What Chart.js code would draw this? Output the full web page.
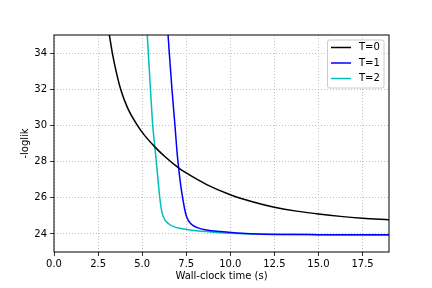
<!DOCTYPE html>
<html>
<head>
<meta charset="utf-8">
<script src="https://cdn.jsdelivr.net/npm/chart.js@4/dist/chart.umd.min.js"></script>
<style>
  html, body { margin: 0; padding: 0; background: #fff; }
  #wrap { width: 432px; height: 288px; }
</style>
</head>
<body>
<div id="wrap"><canvas id="myChart"></canvas></div>
<script>
// values
const labels = ['T=0', 'T=1', 'T=2'];
const colors = ['#000000', '#0000ff', '#00bfbf'];

const t0x = [3.14, 3.31, 3.52, 3.78, 4.16, 4.73, 5.16, 5.73, 6.3, 7.1, 7.5, 8.66, 10.0, 11.3, 12.5, 13.75, 15.0, 16.25, 17.5, 19.0];
const t0y = [35, 34, 33, 32, 31, 30, 29.42, 28.8, 28.27, 27.63, 27.37, 26.73, 26.17, 25.77, 25.48, 25.26, 25.1, 24.97, 24.87, 24.78];

const t1x = [6.47, 6.54, 6.69, 6.86, 6.98, 7.07, 7.2, 7.3, 7.4, 7.52, 7.75, 8.09, 8.66, 9.42, 10.36, 11.5, 13.0, 15.0, 19.0];
const t1y = [35, 34, 32, 30, 28.5, 27.64, 26.6, 25.98, 25.42, 24.95, 24.57, 24.36, 24.22, 24.13, 24.05, 24.0, 23.97, 23.96, 23.95];

const t2x = [5.29, 5.35, 5.47, 5.6, 5.7, 5.8, 5.9, 6.0, 6.13, 6.28, 6.52, 6.75, 7.15, 8.09, 9.42, 10.55, 12.5, 15.0, 19.0];
const t2y = [35, 34, 32, 30, 29, 28, 27, 26, 25.16, 24.79, 24.55, 24.42, 24.31, 24.17, 24.07, 24.02, 23.98, 23.96, 23.94];

const xTicks = [0, 2.5, 5, 7.5, 10, 12.5, 15, 17.5];
const yTicks = [24, 26, 28, 30, 32, 34];

function pts(xs, ys) {
    return xs.map((x, i) => ({ x: x, y: ys[i] }));
}

Chart.defaults.font.family = 'DejaVu Sans';
Chart.defaults.font.size = 10;
Chart.defaults.color = '#000';

// matplotlib style frame + legend inside the axes
const framePlugin = {
    id: 'frame',
    afterDraw(chart) {
        const { ctx, chartArea: a } = chart;
        ctx.save();
        ctx.strokeStyle = '#000';
        ctx.lineWidth = 1;
        ctx.strokeRect(a.left, a.top, a.right - a.left, a.bottom - a.top);

        // legend box
        const bx = 327.5, by = 40, bw = 56.5, bh = 48;
        ctx.fillStyle = 'rgba(255,255,255,0.8)';
        ctx.strokeStyle = '#cccccc';
        ctx.lineWidth = 1;
        ctx.beginPath();
        ctx.roundRect(bx, by, bw, bh, 2);
        ctx.fill();
        ctx.stroke();

        ctx.font = '10px DejaVu Sans';
        ctx.textBaseline = 'middle';
        chart.data.datasets.forEach((ds, i) => {
            const yy = 47.5 + i * 15.5;
            ctx.strokeStyle = ds.borderColor;
            ctx.lineWidth = 1.5;
            ctx.beginPath();
            ctx.moveTo(331, yy);
            ctx.lineTo(351, yy);
            ctx.stroke();
            ctx.fillStyle = '#000';
            ctx.fillText(ds.label, 359, yy);
        });
        ctx.restore();
    }
};

new Chart('myChart', {
    type: 'scatter',
    data: {
        datasets: [
            { label: labels[0], data: pts(t0x, t0y), borderColor: colors[0] },
            { label: labels[1], data: pts(t1x, t1y), borderColor: colors[1] },
            { label: labels[2], data: pts(t2x, t2y), borderColor: colors[2] }
        ].map(d => Object.assign(d, {
            showLine: true,
            pointRadius: 0,
            borderWidth: 1.5,
            tension: 0.4,
            cubicInterpolationMode: 'monotone',
            backgroundColor: d.borderColor
        }))
    },
    options: {
        responsive: true,
        maintainAspectRatio: false,
        animation: false,
        layout: { padding: { left: 0, top: 35, right: 43, bottom: 0 } },
        plugins: {
            legend: { display: false },
            tooltip: { enabled: false }
        },
        scales: {
            x: {
                type: 'linear',
                min: 0,
                max: 19,
                afterBuildTicks: s => { s.ticks = xTicks.map(v => ({ value: v })); },
                afterFit: s => { s.height = 36; },
                ticks: {
                    padding: 2,
                    maxRotation: 0,
                    callback: v => Number(v).toFixed(1)
                },
                grid: {
                    color: '#b0b0b0',
                    lineWidth: 0.8,
                    tickLength: 4,
                    tickColor: '#000'
                },
                border: { display: false, dash: [1, 2] },
                title: {
                    display: true,
                    text: 'Wall-clock time (s)',
                    padding: { top: 0, bottom: 6 }
                }
            },
            y: {
                min: 23,
                max: 35,
                afterBuildTicks: s => { s.ticks = yTicks.map(v => ({ value: v })); },
                afterFit: s => { s.width = 54; },
                ticks: { padding: 3 },
                grid: {
                    color: '#b0b0b0',
                    lineWidth: 0.8,
                    tickLength: 4,
                    tickColor: '#000'
                },
                border: { display: false, dash: [1, 2] },
                title: {
                    display: true,
                    text: '-loglik',
                    padding: { top: 19, bottom: 0 }
                }
            }
        }
    },
    plugins: [framePlugin]
});
</script>
</body>
</html>
